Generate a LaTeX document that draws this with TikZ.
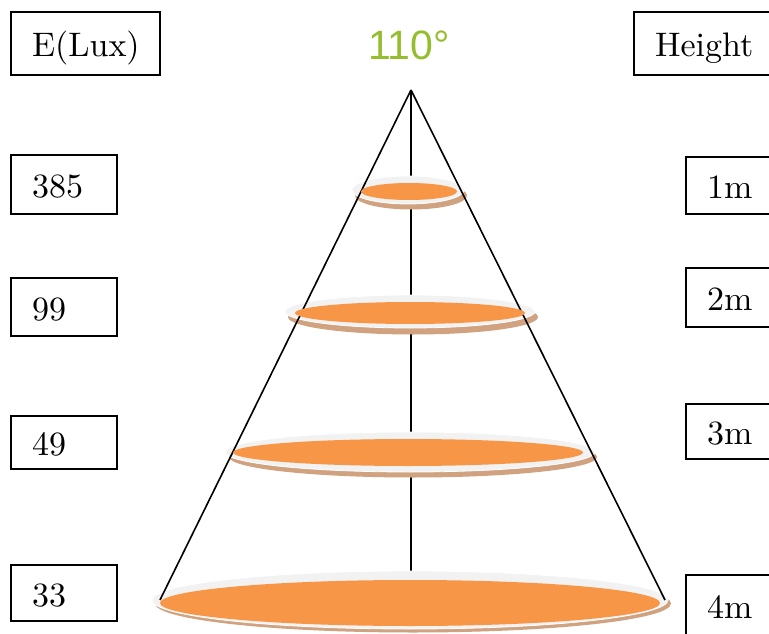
\documentclass[tikz,border=0pt]{standalone}
\usepackage{fontspec}
\setmainfont{lmroman10-regular}[Extension=.otf]
\newfontfamily\sansf{Liberation Sans}
\definecolor{angcol}{HTML}{94BE2E}
\definecolor{spot}{HTML}{F79646}
\definecolor{halo}{HTML}{F2F2F2}
\definecolor{shade}{HTML}{D0A27F}
\begin{document}
\begin{tikzpicture}[x=1pt,y=-1pt,
  box/.style={draw, line width=1.3pt, inner xsep=21pt, inner ysep=0pt, align=left,
    text height=26pt, text depth=0pt,
    font=\fontsize{34}{36}\selectfont},
  ray/.style={line width=1.6pt, black},
  shadowell/.style={fill=shade},
  haloell/.style={fill=halo, draw=white, line width=0.8pt},
  spotell/.style={fill=spot}]
\useasboundingbox (0,0) rectangle (769,634);
\clip (0,0) rectangle (769,634);

% labels
\node[font=\sansf\fontsize{41}{44}\selectfont, text=angcol, anchor=base] (ang) at (409,60) {110°};

\node[box, minimum width=149pt, minimum height=63pt, text width=107pt] (elux) at (85.5,43.5) {E(Lux)};
\node[box, minimum width=156pt, minimum height=63pt, text width=114pt] (hgt) at (712,43.5) {Height};

\node[box, minimum width=106pt, minimum height=59pt, text width=64pt] (e1) at (64,184.5) {385};
\node[box, minimum width=106pt, minimum height=58pt, text width=64pt] (e2) at (64,307) {99};
\node[box, minimum width=106pt, minimum height=53pt, text width=64pt] (e3) at (64,442.5) {49};
\node[box, minimum width=106pt, minimum height=56pt, text width=64pt] (e4) at (64,593) {33};

\node[box, minimum width=104pt, minimum height=57pt, text width=62pt] (h1) at (738,185.5) {1m};
\node[box, minimum width=104pt, minimum height=59pt, text width=62pt] (h2) at (738,297.5) {2m};
\node[box, minimum width=104pt, minimum height=55pt, text width=62pt] (h3) at (738,431.5) {3m};
\node[box, minimum width=104pt, minimum height=60pt, text width=62pt] (h4) at (738,605) {4m};

% cone
\coordinate (apex) at (411,90);
\coordinate (lb) at (160,600);
\coordinate (rb) at (665,600);
\coordinate (cb) at (411,590);
\draw[ray] (apex) -- (cb);

% ellipses: shadow + halo
\fill[shadowell] (411,195.5) ellipse [x radius=56, y radius=14];
\filldraw[haloell] (408,190) ellipse [x radius=56, y radius=14];
\fill[shadowell] (413,317) ellipse [x radius=125, y radius=17.5];
\filldraw[haloell] (410,311.5) ellipse [x radius=125, y radius=16.5];
\fill[shadowell] (413,457) ellipse [x radius=184, y radius=20.5];
\filldraw[haloell] (410,452) ellipse [x radius=185, y radius=20];
\fill[shadowell] (413,603.5) ellipse [x radius=258, y radius=29];
\filldraw[haloell] (410,600) ellipse [x radius=258, y radius=29];

\draw[ray] (apex) -- (lb);
\draw[ray] (apex) -- (rb);

\fill[spotell] (409,191.5) ellipse [x radius=48, y radius=8.5];
\fill[spotell] (410,313) ellipse [x radius=115, y radius=11];
\fill[spotell] (408,452.5) ellipse [x radius=175, y radius=13.5];
\fill[spotell] (410,603) ellipse [x radius=250, y radius=23];
\end{tikzpicture}
\end{document}
